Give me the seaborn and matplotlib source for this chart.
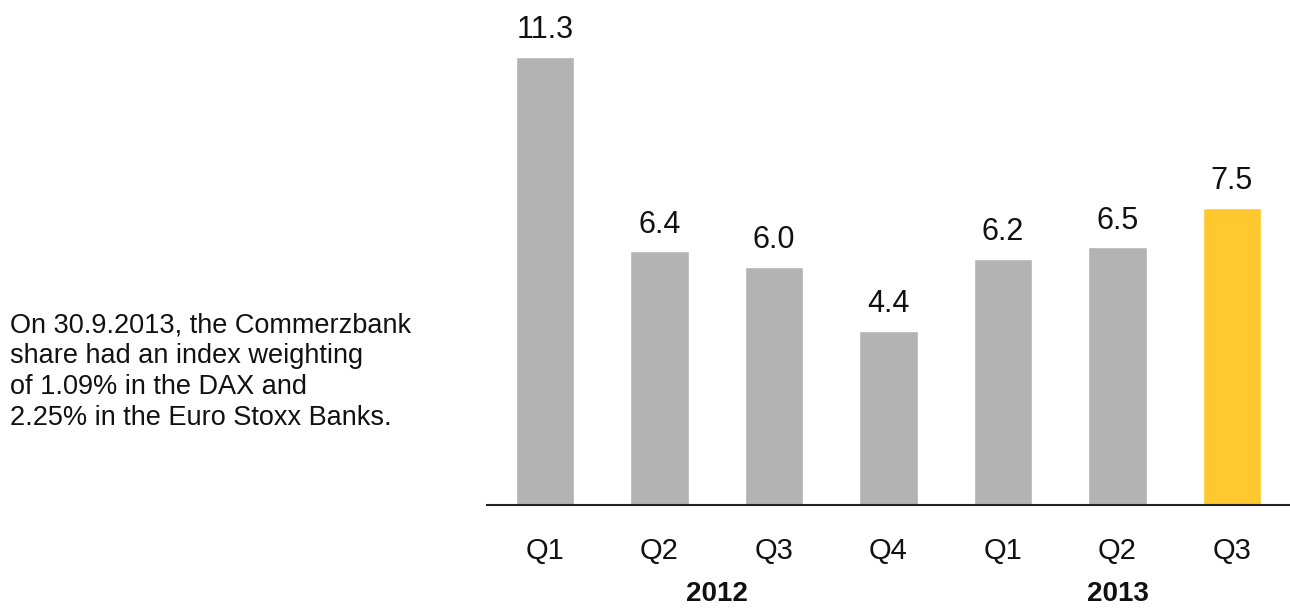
import matplotlib
matplotlib.use("Agg")
import matplotlib.pyplot as plt
import matplotlib.transforms as mtransforms
import seaborn as sns
import pandas as pd

periods = ["2012 Q1", "2012 Q2", "2012 Q3", "2012 Q4", "2013 Q1", "2013 Q2", "2013 Q3"]
quarter_labels = ["Q1", "Q2", "Q3", "Q4", "Q1", "Q2", "Q3"]
values = [11.3, 6.4, 6.0, 4.4, 6.2, 6.5, 7.5]
value_labels = ["11.3", "6.4", "6.0", "4.4", "6.2", "6.5", "7.5"]
years = ["2012", "2013"]
year_groups = [[0, 1, 2, 3], [4, 5, 6]]
note = ("On 30.9.2013, the Commerzbank\nshare had an index weighting\n"
        "of 1.09% in the DAX and\n2.25% in the Euro Stoxx Banks.")

grey = "#b3b3b3"
yellow = "#ffc82e"
colors = [grey] * 6 + [yellow]

sns.set_style("white")
plt.rcParams["font.family"] = ["Liberation Sans", "DejaVu Sans"]

df = pd.DataFrame({"period": periods, "value": values})

fig = plt.figure(figsize=(12.9, 6.08), dpi=100)
ax = fig.add_axes([487 / 1290, 103 / 608, 803 / 1290, 505 / 608])

sns.barplot(data=df, x="period", y="value", hue="period", palette=colors,
            legend=False, width=0.51, ax=ax, saturation=1)

ax.set_xlim(-0.507, 6.507)
ax.set_ylim(0, 12.74)
ax.set_xlabel("")
ax.set_ylabel("")
ax.set_yticks([])
ax.set_xticks(range(len(periods)))
ax.set_xticklabels(quarter_labels, fontsize=21, color="#111111")
ax.tick_params(axis="x", length=0, pad=23)
for s in ["top", "right", "left"]:
    ax.spines[s].set_visible(False)
ax.spines["bottom"].set_color("#222222")
ax.spines["bottom"].set_linewidth(1.5)

for i, (v, lab) in enumerate(zip(values, value_labels)):
    ax.annotate(lab, (i, v), xytext=(0, 13.5), textcoords="offset points",
                ha="center", va="baseline", fontsize=22, color="#111111")

trans = mtransforms.blended_transform_factory(ax.transData, ax.transAxes)
for yr, grp in zip(years, year_groups):
    cx = sum(grp) / len(grp)
    ax.text(cx, -96 / 505, yr, transform=trans, ha="center", va="baseline",
            fontsize=20, fontweight="bold", color="#111111")

fig.text(10 / 1290, 1 - 312 / 608, note, ha="left", va="top", fontsize=19.5,
         color="#111111", linespacing=1.25)

fig.savefig("out.png", dpi=100)
